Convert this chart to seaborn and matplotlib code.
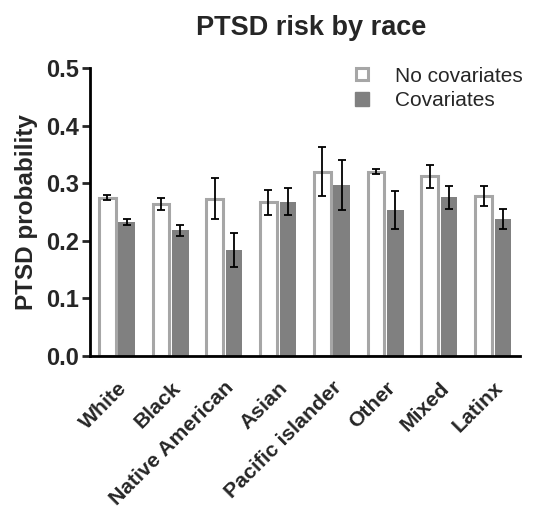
import matplotlib
matplotlib.use("Agg")
import matplotlib.pyplot as plt
import seaborn as sns
import pandas as pd
import numpy as np
from matplotlib.lines import Line2D

categories = ["White", "Black", "Native American", "Asian", "Pacific islander", "Other", "Mixed", "Latinx"]
no_cov = [0.275, 0.264, 0.273, 0.267, 0.320, 0.320, 0.312, 0.278]
no_cov_err = [0.004, 0.010, 0.036, 0.022, 0.043, 0.004, 0.020, 0.017]
cov = [0.232, 0.218, 0.184, 0.268, 0.297, 0.253, 0.276, 0.238]
cov_err = [0.005, 0.010, 0.030, 0.024, 0.044, 0.033, 0.020, 0.017]
series = ["No covariates", "Covariates"]

sns.set_style("ticks")
plt.rcParams["font.family"] = ["Liberation Sans", "DejaVu Sans"]

df = pd.DataFrame({
    "race": categories * 2,
    "model": [series[0]] * len(categories) + [series[1]] * len(categories),
    "prob": no_cov + cov,
    "err": no_cov_err + cov_err,
})

fig = plt.figure(figsize=(5.34, 5.09), dpi=100)
ax = fig.add_axes([0.1685, 0.3006, 0.8055, 0.5658])

sns.barplot(data=df, x="race", y="prob", hue="model", order=categories,
            hue_order=series, palette=["white", "#808080"], width=0.72, gap=0.14,
            errorbar=None, ax=ax, legend=False)

edge_grey = "#a6a6a6"
n = len(categories)
for i, p in enumerate(ax.patches[:2 * n]):
    if i < n:
        p.set_facecolor("white")
        p.set_edgecolor(edge_grey)
        p.set_linewidth(2.2)
    else:
        p.set_facecolor("#808080")
        p.set_edgecolor("#808080")
        p.set_linewidth(0)

xs = [p.get_x() + p.get_width() / 2 for p in ax.patches[:2 * n]]
ys = no_cov + cov
es = no_cov_err + cov_err
ax.errorbar(xs, ys, yerr=es, fmt="none", ecolor="black", elinewidth=1.3,
            capsize=3, capthick=1.3, zorder=5)

ax.set_ylim(0, 0.5)
ax.set_xlim(-0.5, n - 0.5)
ax.set_yticks([0, 0.1, 0.2, 0.3, 0.4, 0.5])
ax.set_yticklabels(["0.0", "0.1", "0.2", "0.3", "0.4", "0.5"], fontsize=17, fontweight="bold")
ax.set_xticks(range(n))
ax.set_xticklabels(categories, rotation=45, ha="right", rotation_mode="anchor",
                   fontsize=15.3, fontweight="bold")
ax.tick_params(axis="x", length=0, pad=16)
ax.tick_params(axis="y", length=6, width=2, direction="out", pad=2)
for s in ["left", "bottom"]:
    ax.spines[s].set_linewidth(2)
    ax.spines[s].set_color("black")
sns.despine(ax=ax)
ax.set_xlabel("")
ax.set_ylabel("PTSD probability", fontsize=17.5, fontweight="bold", labelpad=6)
ax.set_title("PTSD risk by race", fontsize=19.5, fontweight="bold", pad=24, x=0.515)

handles = [
    Line2D([], [], marker="s", linestyle="none", markersize=9, markerfacecolor="white",
           markeredgecolor=edge_grey, markeredgewidth=2.2),
    Line2D([], [], marker="s", linestyle="none", markersize=10, markerfacecolor="#808080",
           markeredgecolor="#808080"),
]
ax.legend(handles, series, loc="upper right", bbox_to_anchor=(1.05, 1.07), frameon=False,
          fontsize=15, handletextpad=1.0, labelspacing=0.25, handlelength=1.2)

fig.savefig("out.png", dpi=100)
